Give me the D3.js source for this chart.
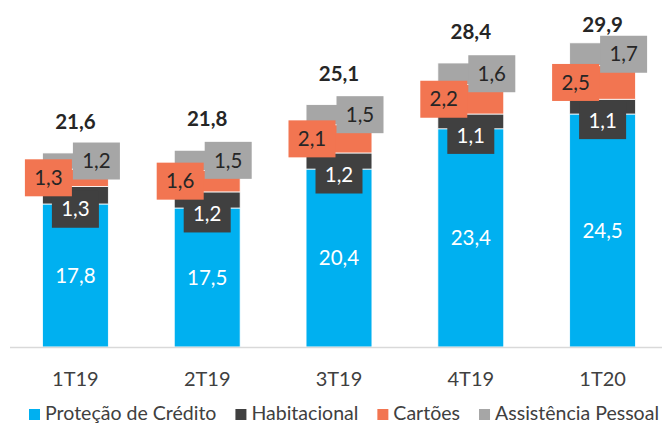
<!DOCTYPE html>
<html>
<head>
<meta charset="utf-8">
<script src="https://cdn.jsdelivr.net/npm/d3@7"></script>
<style>
body { margin: 0; background: #fff; }
svg { display: block; }
</style>
</head>
<body>
<svg class="chart"></svg>
<script>
// Chart data
var categories = ["1T19", "2T19", "3T19", "4T19", "1T20"];
var seriesNames = ["Proteção de Crédito", "Habitacional", "Cartões", "Assistência Pessoal"];
var protecao = [17.8, 17.5, 20.4, 23.4, 24.5];
var habitacional = [1.3, 1.2, 1.2, 1.1, 1.1];
var cartoes = [1.3, 1.6, 2.1, 2.2, 2.5];
var assistencia = [1.2, 1.5, 1.5, 1.6, 1.7];
var totals = [21.6, 21.8, 25.1, 28.4, 29.9];

var colors = ["#00b0f0", "#404040", "#f27551", "#a6a6a6"];
var labelColors = ["#ffffff", "#ffffff", "#262626", "#262626"];
var FONT = "Lato, 'Open Sans', sans-serif";

var width = 662, height = 425;
var baseY = 347;

// comma as decimal separator
var ptBR = d3.formatLocale({decimal: ",", thousands: ".", grouping: [3], currency: ["R$", ""]});
var f1 = ptBR.format(".1f");

// build rows for d3.stack
var keys = ["p", "h", "c", "a"];
var rows = categories.map(function(c, i) {
    return {cat: c, p: protecao[i], h: habitacional[i], c: cartoes[i], a: assistencia[i], total: totals[i]};
});
var stacked = d3.stack().keys(keys)(rows);

var svg = d3.select(".chart")
    .attr("width", width)
    .attr("height", height);

// Scales (value axis doesn't start at zero in the original)
var x = d3.scaleBand()
    .domain(categories)
    .range([9.5, 668.5])
    .paddingInner(0.5)
    .paddingOuter(0.25);

var y = d3.scaleLinear()
    .domain([7.15, 32])
    .range([baseY, 13.3])
    .clamp(true);

// Bars
var layer = svg.selectAll(".layer")
    .data(stacked)
    .enter().append("g")
    .attr("class", "layer")
    .attr("fill", function(d, i) { return colors[i]; });

layer.selectAll("rect")
    .data(function(d) { return d; })
    .enter().append("rect")
    .attr("x", function(d) { return x(d.data.cat); })
    .attr("width", x.bandwidth())
    .attr("y", function(d) { return y(d[1]); })
    .attr("height", function(d) { return y(d[0]) - y(d[1]); })
    .attr("stroke", "#ffffff")
    .attr("stroke-width", 0.8);

// Base line
svg.append("line")
    .attr("x1", 10).attr("x2", width)
    .attr("y1", baseY + 0.5).attr("y2", baseY + 0.5)
    .attr("stroke", "#d9d9d9")
    .attr("stroke-width", 1.5);

// Labels for blue series: centered inside the bar
svg.append("g").selectAll("text")
    .data(stacked[0])
    .enter().append("text")
    .attr("x", function(d) { return x(d.data.cat) + x.bandwidth() / 2; })
    .attr("y", function(d) { return (y(d[0]) + y(d[1])) / 2; })
    .attr("dy", "0.35em")
    .attr("text-anchor", "middle")
    .style("font-family", FONT)
    .style("font-size", "20.5px")
    .style("fill", labelColors[0])
    .text(function(d) { return f1(d.data.p); });

// Boxed labels for the small segments (nudged like in the original)
var nudges = [null, {dx: 0, dy: 14}, {dx: -27, dy: 0}, {dx: 21, dy: 0}];
var boxW = 47, boxH = 37;

[1, 2, 3].forEach(function(s) {
    var g = svg.append("g").attr("class", "lbl-" + keys[s]);
    var lbl = g.selectAll("g")
        .data(stacked[s])
        .enter().append("g")
        .attr("transform", function(d) {
            var cx = x(d.data.cat) + x.bandwidth() / 2 + nudges[s].dx;
            var cy = (y(d[0]) + y(d[1])) / 2 + nudges[s].dy;
            return "translate(" + cx + "," + cy + ")";
        });
    lbl.append("rect")
        .attr("x", -boxW / 2)
        .attr("y", -boxH / 2)
        .attr("width", boxW)
        .attr("height", boxH)
        .attr("fill", colors[s]);
    lbl.append("text")
        .attr("text-anchor", "middle")
        .attr("dy", "0.35em")
        .style("font-family", FONT)
        .style("font-size", "20.5px")
        .style("fill", labelColors[s])
        .text(function(d) { return f1(d.data[keys[s]]); });
});

// Totals on top (kept inside the chart area)
svg.append("g").selectAll("text")
    .data(stacked[3])
    .enter().append("text")
    .attr("x", function(d) { return x(d.data.cat) + x.bandwidth() / 2; })
    .attr("y", function(d) { return Math.max(y(d[1]) - 31, 24.5); })
    .attr("dy", "0.35em")
    .attr("text-anchor", "middle")
    .style("font-family", FONT)
    .style("font-size", "20.5px")
    .style("font-weight", "bold")
    .style("fill", "#262626")
    .text(function(d) { return f1(d.data.total); });

// Category axis labels
svg.append("g").selectAll("text")
    .data(categories)
    .enter().append("text")
    .attr("x", function(d) { return x(d) + x.bandwidth() / 2; })
    .attr("y", 379)
    .attr("dy", "0.35em")
    .attr("text-anchor", "middle")
    .style("font-family", FONT)
    .style("font-size", "20px")
    .style("fill", "#404040")
    .text(function(d) { return d; });

// Legend
var legend = svg.append("g").attr("class", "legend");
var legendTexts = legend.selectAll("text")
    .data(seriesNames)
    .enter().append("text")
    .attr("y", 420)
    .style("font-family", FONT)
    .style("font-size", "20px")
    .style("fill", "#404040")
    .text(function(d) { return d; });

// lay the legend out from measured widths, squeeze a little if too wide
var sq = 12, gapSq = 4, gapItem = 19, startX = 29, endX = 659;
var widths = [];
legendTexts.each(function() { widths.push(this.getComputedTextLength()); });
var fixed = seriesNames.length * (sq + gapSq) + (seriesNames.length - 1) * gapItem;
var avail = endX - startX - fixed;
var k = Math.min(1, avail / d3.sum(widths));
var cursor = startX;
legendTexts.each(function(d, i) {
    var w = widths[i] * k;
    legend.append("rect")
        .attr("x", cursor)
        .attr("y", 409)
        .attr("width", sq - 1)
        .attr("height", 11)
        .attr("fill", colors[i]);
    d3.select(this)
        .attr("x", cursor + sq + gapSq);
    if (k < 1) {
        d3.select(this)
            .attr("textLength", w)
            .attr("lengthAdjust", "spacingAndGlyphs");
    }
    cursor += sq + gapSq + w + gapItem;
});
</script>
</body>
</html>
